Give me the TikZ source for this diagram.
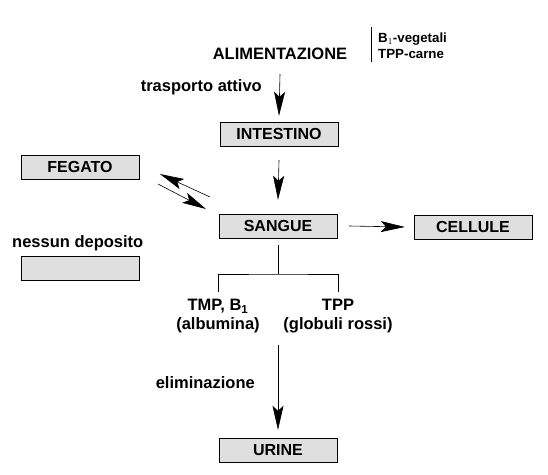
\documentclass[tikz,border=0pt]{standalone}
\usepackage{fontspec}
\setmainfont{Liberation Sans}
\usetikzlibrary{arrows.meta}
\tikzset{
  organo/.style={draw, thin, fill=gray!25, minimum width=118pt, minimum height=24pt,
    inner sep=0pt, font=\fontsize{16}{18}\selectfont\bfseries},
  testo/.style={font=\fontsize{16.5}{19}\selectfont\bfseries, inner sep=0pt},
  piccolo/.style={font=\fontsize{13.3}{16}\selectfont\bfseries, inner sep=0pt, align=left},
  freccia/.style={-{Stealth[length=24pt,width=11pt,inset=5pt]}, semithick}
}
\begin{document}
\begin{tikzpicture}[x=1pt,y=1pt]
            \useasboundingbox (0,0) rectangle (548,-474);
            
            % nodi principali
            \node[testo] (alim) at (280,-54) {ALIMENTAZIONE};
            \node[organo] (intest) at (279,-134) {INTESTINO};
            \node[organo] (fegato) at (80,-167) {FEGATO};
            \node[organo] (sangue) at (278,-226) {SANGUE};
            \node[organo] (cellule) at (473,-227) {CELLULE};
            \node[organo] (vuoto) at (80,-268) {};
            \node[organo] (urine) at (278,-450) {URINE};
            
            % fonti
            \draw[thin] (371,-27) -- (371,-62);
            \node[piccolo, anchor=west] (fonti) at (378,-46) {B$_1$-vegetali\\TPP-carne};
            
            \node[testo, anchor=east] (trasp) at (262,-87) {trasporto attivo};
            \node[testo, anchor=west] (nessun) at (12,-243) {nessun deposito};
            \node[testo, anchor=east] (elim) at (255,-383) {eliminazione};
            
            % frecce
            \draw[freccia] ([yshift=-14pt]alim.south) -- ([yshift=6pt]intest.north);
            \draw[freccia] ([yshift=-14pt]intest.south) -- ([yshift=14pt]sangue.north);
            \draw[freccia] ([xshift=12pt]sangue.east) -- ([xshift=-9pt]cellule.west);
            
            % scambio fegato - sangue
            \coordinate (fs1) at (210,-197);
            \coordinate (fs2) at (160,-174);
            \coordinate (fs3) at (158,-184);
            \coordinate (fs4) at (206,-209);
            \draw[freccia] (fs1) -- (fs2);
            \draw[freccia] (fs3) -- (fs4);
            
            % ripartizione nel sangue
            \coordinate (nodo) at (278,-274);
            \coordinate (sx) at (218,-292);
            \coordinate (dx) at (338,-292);
            \draw[thin] ([yshift=-7pt]sangue.south) -- (nodo);
            \draw[thin] (sx) |- (nodo) -| (dx);
            \node[testo, align=center, anchor=north] (tmp) at (218,-299) {TMP, B$_\mathbf{1}$\\(albumina)};
            \node[testo, align=center, anchor=north] (tpp) at (338,-299) {TPP\\(globuli rossi)};
            
            \coordinate (el) at (278,-345);
            \draw[freccia] (el) -- ([yshift=8pt]urine.north);
        \end{tikzpicture}
\end{document}
